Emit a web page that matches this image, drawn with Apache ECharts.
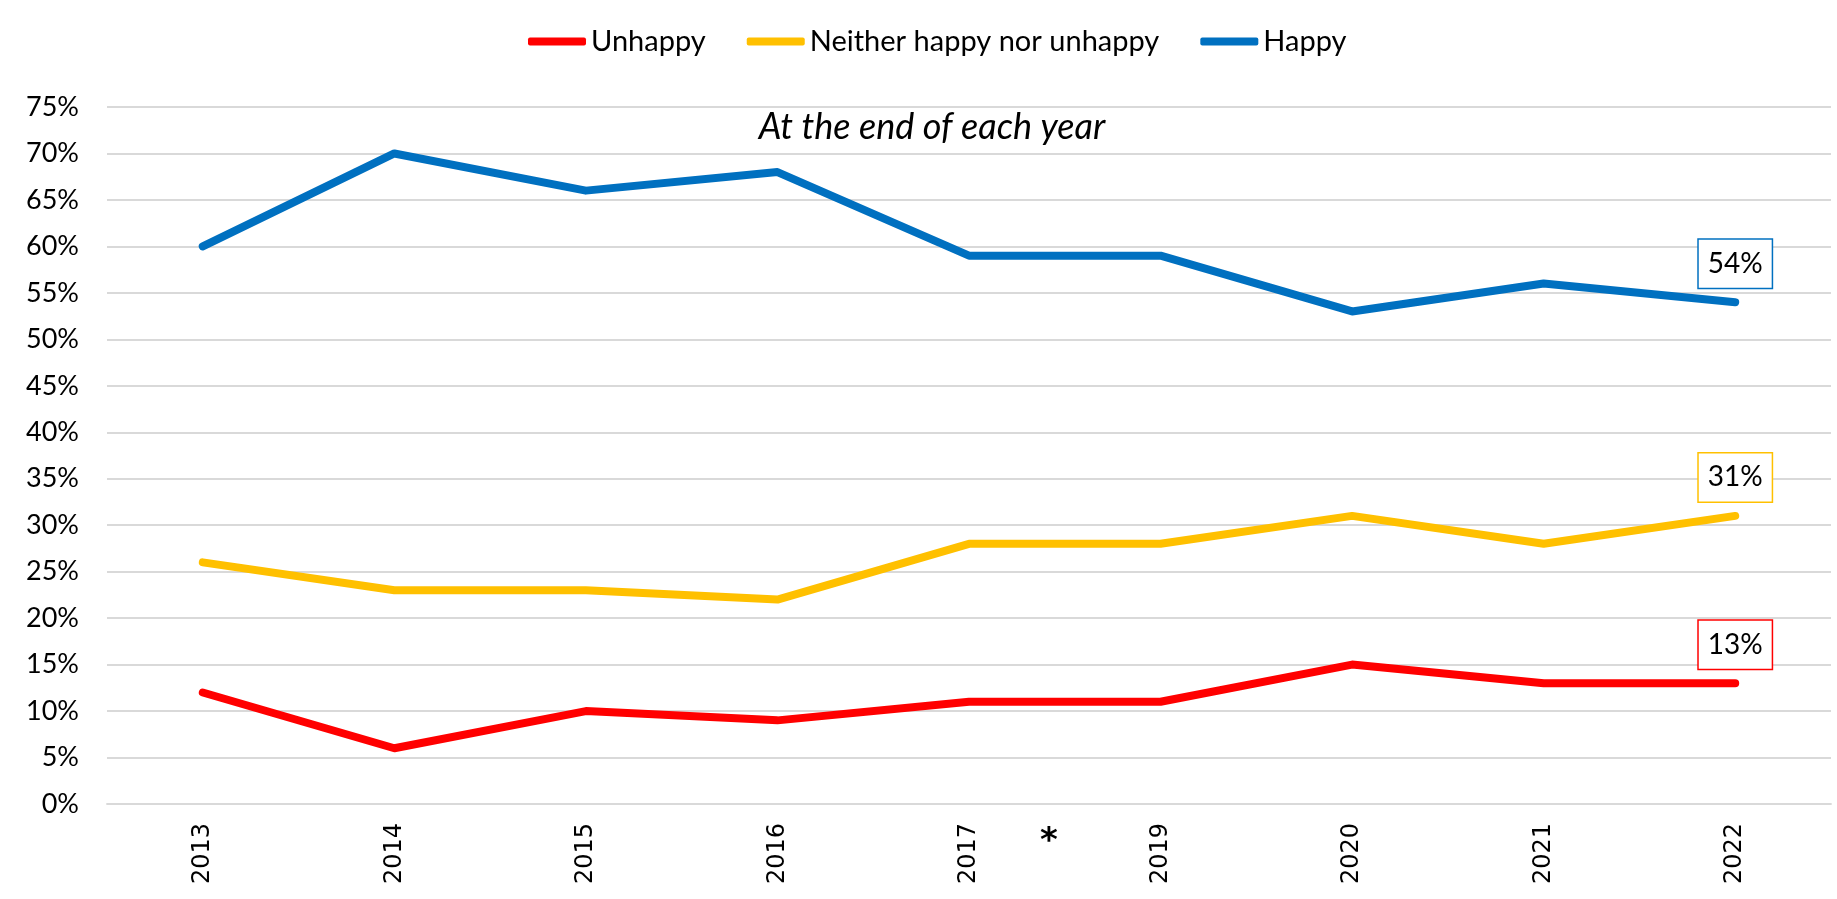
<!DOCTYPE html>
<html>
<head>
<meta charset="utf-8">
<script src="https://cdn.jsdelivr.net/npm/echarts@6/dist/echarts.min.js"></script>
<style>
  html, body { margin: 0; padding: 0; background: #fff; }
  #chart { width: 1837px; height: 899px; }
</style>
</head>
<body>
<div id="chart"></div>
<script>
// years (2018 missing, marked by the asterisk)
var years = ['2013', '2014', '2015', '2016', '2017', '2019', '2020', '2021', '2022'];
var unhappy = [12, 6, 10, 9, 11, 11, 15, 13, 13];
var neither = [26, 23, 23, 22, 28, 28, 31, 28, 31];
var happy = [60, 70, 66, 68, 59, 59, 53, 56, 54];

var seriesNames = ['Unhappy', 'Neither happy nor unhappy', 'Happy'];
var seriesColors = ['#FF0000', '#FFC000', '#0070C0'];

var font = 'Lato, "Open Sans", sans-serif';

function makeSeries(name, data, color) {
    var last = data.length - 1;
    return {
        name: name,
        type: 'line',
        data: data.map(function (v, i) {
            // only last point gets a boxed label
            if (i !== last) return v;
            return {
                value: v,
                label: {
                    show: true,
                    position: 'top',
                    distance: 14,
                    formatter: '{c}%',
                    color: '#000',
                    fontFamily: font,
                    fontSize: 28,
                    lineHeight: 32,
                    backgroundColor: '#fff',
                    borderColor: color,
                    borderWidth: 1.5,
                    padding: [8, 9, 8, 9]
                }
            };
        }),
        // tiny symbol (hidden under the line) so the end label gets drawn
        symbol: 'circle',
        symbolSize: 1,
        showSymbol: true,
        smooth: false,
        color: color,
        itemStyle: { color: color },
        lineStyle: { color: color, width: 8, cap: 'round', join: 'round' },
        emphasis: { disabled: true },
        z: 3
    };
}

var chart = echarts.init(document.getElementById('chart'));
var option = {
    animation: false,
    backgroundColor: '#fff',
    legend: {
        top: 22,
        left: 523,
        itemWidth: 58,
        itemHeight: 8,
        itemGap: 41,
        icon: 'roundRect',
        data: seriesNames.map(function (n, i) {
            return { name: n, itemStyle: { color: seriesColors[i], opacity: 1 } };
        }),
        textStyle: { fontFamily: font, fontSize: 29, color: '#000' }
    },
    grid: { left: 107, right: 6, top: 107, bottom: 95 },
    xAxis: {
        type: 'category',
        data: years,
        boundaryGap: true,
        axisLine: { show: true, lineStyle: { color: '#d9d9d9', width: 1.8 } },
        axisTick: { show: false },
        axisLabel: {
            rotate: 90,
            margin: 19,
            color: '#000',
            fontFamily: '"DejaVu Sans", sans-serif',
            fontSize: 24
        }
    },
    yAxis: {
        type: 'value',
        min: 0,
        max: 75,
        interval: 5,
        axisLine: { show: false },
        axisTick: { show: false },
        splitLine: { lineStyle: { color: '#d9d9d9', width: 1.8 } },
        axisLabel: {
            formatter: '{value}%',
            margin: 28,
            color: '#000',
            fontFamily: font,
            fontSize: 27
        }
    },
    graphic: [
        {
            type: 'text',
            x: 932, y: 127,
            style: {
                text: 'At the end of each year',
                fontFamily: font,
                fontStyle: 'italic',
                fontSize: 36,
                fill: '#000',
                align: 'center',
                verticalAlign: 'middle'
            }
        },
        {
            type: 'text',
            x: 1049, y: 842,
            style: {
                text: '*',
                fontFamily: '"DejaVu Sans", sans-serif',
                fontWeight: 'bold',
                fontSize: 34,
                fill: '#000',
                align: 'center',
                verticalAlign: 'middle'
            }
        }
    ],
    series: [
        makeSeries(seriesNames[0], unhappy, seriesColors[0]),
        makeSeries(seriesNames[1], neither, seriesColors[1]),
        makeSeries(seriesNames[2], happy, seriesColors[2])
    ]
};
chart.setOption(option);
</script>
</body>
</html>
